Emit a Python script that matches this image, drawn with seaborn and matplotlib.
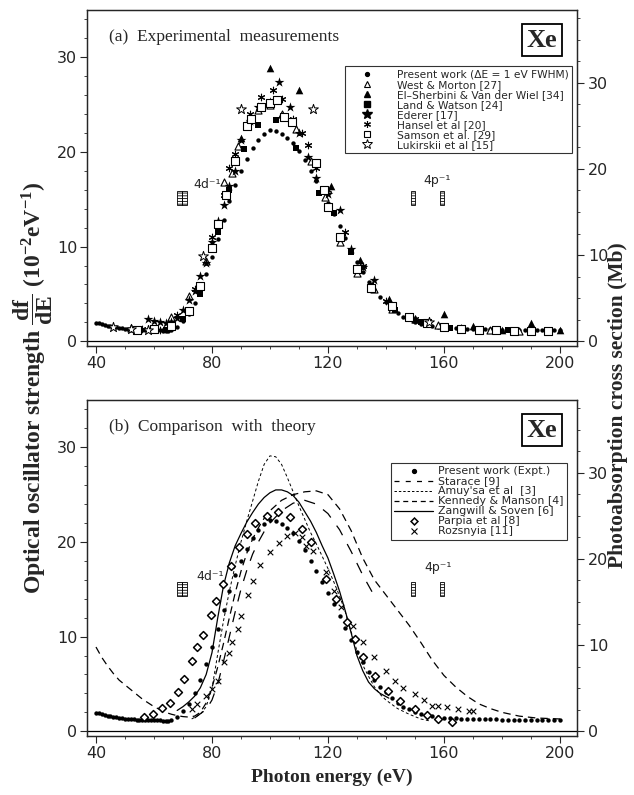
import numpy as np
import pandas as pd
import matplotlib
matplotlib.use("Agg")
import matplotlib.pyplot as plt
import seaborn as sns
from matplotlib.lines import Line2D
from matplotlib.patches import Rectangle
from matplotlib.ticker import MultipleLocator

# ---------------- data ----------------
pw_x = [40, 41, 42, 43, 44, 45, 46, 47, 48, 49, 50, 51, 52, 53, 54, 55, 56, 57, 58, 59, 60, 61, 62, 63, 64, 65,
        66, 68, 70, 72, 74, 76, 78, 80, 82, 84, 86, 88, 90, 92, 94, 96, 98, 100, 102, 104, 106, 108, 110, 112,
        114, 116, 118, 120, 122, 124, 126, 128, 130, 132, 134, 136, 138, 140, 142, 144, 146, 148, 150, 152,
        154, 156, 158, 160, 162, 164, 166, 168, 170, 172, 174, 176, 178, 180, 182, 184, 186, 188, 190, 192,
        194, 196, 198, 200]
pw_y = [1.95, 1.88, 1.8, 1.72, 1.65, 1.58, 1.52, 1.47, 1.42, 1.38, 1.34, 1.3, 1.27, 1.25, 1.23, 1.21, 1.2,
        1.19, 1.18, 1.17, 1.16, 1.15, 1.14, 1.13, 1.12, 1.12,
        1.2, 1.5, 2.1, 2.9, 4.0, 5.4, 7.1, 8.9, 10.8, 12.8, 14.8, 16.5, 18.0, 19.3, 20.4, 21.3, 21.9, 22.3,
        22.2, 21.9, 21.5, 20.9, 20.1, 19.1, 18.0, 16.9, 15.8, 14.6, 13.4, 12.2, 10.9, 9.6, 8.4, 7.3, 6.3,
        5.4, 4.7, 4.1, 3.5, 3.0, 2.6, 2.3, 2.0, 1.85, 1.7, 1.6, 1.5, 1.45, 1.4, 1.35, 1.3, 1.3, 1.28, 1.27,
        1.26, 1.25, 1.25, 1.24, 1.23, 1.22, 1.22, 1.21, 1.2, 1.2, 1.19, 1.18, 1.18, 1.17]

wm_x = [52, 60, 66, 72, 78, 84, 87, 89, 92, 96, 100, 104, 109, 114, 119, 124, 130, 136, 142, 150, 158, 166, 176, 186, 196]
wm_y = [1.4, 1.3, 2.6, 4.8, 8.5, 16.8, 17.8, 20.6, 23.0, 24.4, 25.0, 24.0, 22.4, 19.0, 15.2, 10.5, 7.2, 5.5,
        3.4, 2.4, 1.7, 1.4, 1.2, 1.1, 1.1]

es_x = [90, 100, 110, 121, 131, 141, 150, 160, 170, 180, 190, 200]
es_y = [21.5, 28.9, 26.5, 16.4, 8.6, 4.5, 2.3, 2.9, 1.6, 1.2, 1.9, 1.2]

lw_x = [64, 70, 76, 82, 86, 91, 96, 102, 109, 117, 122, 128, 135, 143, 152, 162, 172, 182]
lw_y = [1.2, 2.3, 5.0, 11.5, 16.0, 20.3, 22.8, 23.4, 20.4, 15.7, 13.5, 9.4, 5.8, 3.3, 2.0, 1.4, 1.3, 1.2]

ed_x = [58, 60, 62, 64, 66, 68, 70, 72, 74, 76, 78, 80, 82, 84, 86, 88, 90, 93, 96, 100, 103, 107, 110,
        113, 116, 120, 124, 128, 132, 136]
ed_y = [2.3, 2.1, 2.0, 1.9, 2.0, 2.5, 3.3, 4.4, 5.3, 6.9, 8.3, 10.5, 12.7, 14.4, 16.4, 18.0, 21.3, 23.3,
        24.8, 25.3, 27.4, 24.8, 22.0, 19.5, 17.2, 15.6, 13.9, 9.8, 7.8, 6.5]

ha_x = [56, 62, 68, 74, 80, 84, 86, 88, 93, 97, 101, 104, 108, 111, 113, 116, 120, 126, 132, 140, 150]
ha_y = [1.3, 1.2, 2.8, 5.5, 11.0, 15.5, 18.3, 19.8, 24.0, 25.8, 26.5, 25.6, 23.5, 22.0, 20.7, 18.3, 16.0,
        11.5, 8.0, 4.3, 2.3]

sa_x = [54, 60, 66, 72, 76, 80, 82, 85, 88, 92, 93.5, 97, 100, 102.5, 105, 107.5, 116, 118.5, 120, 124,
        130, 135, 142, 148, 154, 160, 166, 172, 178, 184, 190, 196]
sa_y = [1.2, 1.3, 1.6, 3.2, 5.8, 9.9, 12.4, 15.5, 19.0, 22.7, 23.5, 24.8, 25.2, 25.5, 23.7, 23.2, 18.8,
        16.0, 14.2, 11.0, 7.6, 5.6, 3.7, 2.6, 1.9, 1.5, 1.3, 1.2, 1.2, 1.1, 1.1, 1.1]

lu_x = [46, 52, 58, 77, 90, 115, 155]
lu_y = [1.5, 1.3, 1.2, 9.0, 24.5, 24.5, 2.0]

# panel (b) theory
st_x = [74, 78, 80, 82, 84, 86, 88, 90, 92, 94, 96, 98, 100, 104, 108, 112, 116, 120, 124, 128, 132, 136]
st_y = [1.4, 2.3, 3.3, 5.0, 7.4, 10.0, 12.6, 15.0, 17.0, 18.7, 20.0, 21.1, 22.0, 23.3, 24.1, 24.4, 24.0,
        23.0, 21.3, 19.0, 16.5, 14.3]

am_x = [73, 76, 78, 80, 82, 84, 86, 88, 90, 92, 94, 96, 98, 100, 102, 104, 106, 108, 110, 112, 114, 116,
        118, 120, 122, 124, 126, 128, 130, 132, 134, 136, 138, 140, 144, 148, 152, 155]
am_y = [1.3, 1.8, 2.6, 4.5, 8.2, 11.7, 14.8, 17.5, 20.0, 22.2, 24.3, 26.4, 28.2, 29.1, 29.0, 28.2, 26.8,
        25.3, 23.8, 22.4, 21.0, 19.8, 18.5, 17.2, 15.8, 14.3, 12.6, 10.5, 8.5, 7.0, 5.8, 4.7, 3.9, 3.3,
        2.4, 1.8, 1.3, 1.1]

km_x = [40, 42, 44, 46, 48, 50, 52, 54, 56, 58, 60, 62, 64, 66, 68, 70, 72, 74, 76, 78, 80, 82, 84, 86,
        88, 90, 92, 94, 96, 98, 100, 104, 108, 112, 116, 120, 124, 128, 132, 136, 140, 144, 148, 152, 156,
        160, 164, 168, 172, 176, 180, 186, 192, 200]
km_y = [8.9, 7.8, 6.9, 6.1, 5.4, 4.9, 4.4, 3.9, 3.4, 3.0, 2.6, 2.3, 2.0, 1.8, 1.65, 1.55, 1.5, 1.6, 2.0,
        3.0, 4.6, 6.8, 9.3, 12.0, 14.6, 16.9, 18.8, 20.3, 21.5, 22.5, 23.3, 24.4, 25.0, 25.3, 25.4, 25.0,
        23.5, 21.2, 18.3, 16.0, 14.4, 12.8, 11.2, 9.4, 7.5, 5.9, 4.7, 3.7, 2.9, 2.4, 2.0, 1.6, 1.4, 1.3]

zs_x = [68, 70, 72, 74, 76, 78, 80, 82, 84, 86, 88, 90, 92, 94, 96, 98, 100, 102, 104, 106, 108, 110, 112,
        114, 116, 118, 120, 122, 124, 126, 128, 130, 132, 134, 136, 138, 141]
zs_y = [2.2, 2.6, 3.1, 3.7, 4.6, 6.0, 8.3, 12.0, 15.4, 17.8, 19.6, 20.9, 22.1, 23.1, 24.0, 24.7, 25.2, 25.5,
        25.5, 25.3, 24.9, 24.2, 23.2, 22.2, 21.0, 19.6, 18.3, 16.6, 14.8, 12.7, 10.4, 8.0, 6.4, 5.2, 4.5,
        4.0, 3.5]

pa_x = [56.5, 59.8, 62.6, 65.5, 68.4, 70.3, 73.2, 75, 76.8, 79.5, 81.3, 83.7, 86.4, 89.3, 92.2, 94.9, 98.9,
        102.9, 106.9, 110.9, 114, 119.5, 122.8, 126.7, 129.3, 132.2, 136.4, 140.8, 144.8, 150, 154, 158, 162.7]
pa_y = [1.5, 1.8, 2.5, 3.0, 4.1, 5.5, 7.4, 8.9, 10.2, 12.3, 13.8, 15.6, 17.5, 19.5, 20.8, 22.0, 22.7, 23.2,
        22.6, 21.4, 20.0, 16.1, 14.0, 11.5, 9.7, 7.8, 5.8, 4.3, 3.2, 2.3, 1.7, 1.3, 1.0]

ro_x = [73, 75, 78, 80, 82, 84, 86, 87, 89, 90, 92.5, 94, 96.5, 100, 103, 106, 108.5, 111, 112.5, 115,
        119.5, 122, 124.5, 128.5, 132, 136, 140, 143, 146, 150, 153, 156, 158, 161, 165, 168.5, 170]
ro_y = [2.3, 2.9, 3.7, 4.5, 5.3, 7.3, 8.3, 9.4, 10.8, 12.2, 14.4, 15.9, 17.6, 18.9, 19.9, 20.6, 21.0, 20.5,
        19.6, 19.0, 16.8, 14.8, 13.1, 11.1, 9.4, 7.8, 6.4, 5.3, 4.6, 3.9, 3.3, 2.7, 2.7, 2.6, 2.4, 2.1, 2.1]

labels_a = ["Present work (\u0394E = 1 eV FWHM)", "West & Morton [27]", "El\u2013Sherbini & Van der Wiel [34]",
            "Land & Watson [24]", "Ederer [17]", "Hansel et al [20]", "Samson et al. [29]", "Lukirskii et al [15]"]
labels_b = ["Present work (Expt.)", "Starace [9]", "Amuy'sa et al  [3]", "Kennedy & Manson [4]",
            "Zangwill & Soven [6]", "Parpia et al [8]", "Rozsnyia [11]"]
x_ticks = [40, 80, 120, 160, 200]
y_ticks = [0, 10, 20, 30]
mb_ticks = [0, 10, 20, 30]
MB_PER_UNIT = 1.098

# thresholds (annotation positions)
thr_4d = [67.8, 69.6]
thr_4p = [148.8, 158.6]

# ---------------- style ----------------
sns.set_style("ticks")
plt.rcParams["font.family"] = ["Liberation Sans Narrow", "DejaVu Sans"]
plt.rcParams["mathtext.fontset"] = "custom"
plt.rcParams["mathtext.rm"] = "Liberation Serif:bold"
plt.rcParams["mathtext.it"] = "Liberation Serif:italic:bold"
plt.rcParams["mathtext.bf"] = "Liberation Serif:bold"
plt.rcParams["hatch.linewidth"] = 0.6

fig = plt.figure(figsize=(6.34, 7.95), dpi=100)
axA = fig.add_axes([87 / 634, 1 - 346 / 795, 490 / 634, 336 / 795])
axB = fig.add_axes([87 / 634, 1 - 736 / 795, 490 / 634, 336 / 795])

XLIM = (36.9, 205.9)
YLIM = (-0.5, 35.0)
K = "black"


def sc(ax, x, y, marker, s, filled=True, lw=0.8):
    df = pd.DataFrame({"x": x, "y": y})
    if filled:
        sns.scatterplot(data=df, x="x", y="y", ax=ax, marker=marker, s=s, color=K,
                        edgecolor=K, linewidth=0, legend=False, zorder=3)
    else:
        sns.scatterplot(data=df, x="x", y="y", ax=ax, marker=marker, s=s, color="white",
                        edgecolor=K, linewidth=lw, legend=False, zorder=3)


def unfilled(ax, x, y, marker, s, lw=0.8):
    df = pd.DataFrame({"x": x, "y": y})
    sns.scatterplot(data=df, x="x", y="y", ax=ax, marker=marker, s=s, color=K,
                    linewidth=lw, legend=False, zorder=3)


def ln(ax, x, y, ls, lw=0.9):
    df = pd.DataFrame({"x": x, "y": y})
    sns.lineplot(data=df, x="x", y="y", ax=ax, color=K, linewidth=lw, linestyle=ls,
                 estimator=None, sort=False, legend=False, zorder=2)


def frame(ax, title):
    ax.set_xlim(*XLIM)
    ax.set_ylim(*YLIM)
    ax.set_xticks(x_ticks)
    ax.set_yticks(y_ticks)
    ax.xaxis.set_minor_locator(MultipleLocator(10))
    ax.yaxis.set_minor_locator(MultipleLocator(2))
    ax.tick_params(which="major", direction="out", length=5, width=0.8, labelsize=11.5, pad=2)
    ax.tick_params(which="minor", direction="out", length=2.5, width=0.6)
    for sp in ax.spines.values():
        sp.set_visible(True)
        sp.set_linewidth(0.9)
    ax.axhline(0, color=K, lw=0.9, zorder=1)
    tw = ax.twinx()
    tw.set_ylim(YLIM[0] * MB_PER_UNIT, YLIM[1] * MB_PER_UNIT)
    tw.set_yticks(mb_ticks)
    tw.yaxis.set_minor_locator(MultipleLocator(2.5))
    tw.tick_params(which="major", direction="out", length=5, width=0.8, labelsize=11.5, pad=3)
    tw.tick_params(which="minor", direction="out", length=2.5, width=0.6)
    for sp in tw.spines.values():
        sp.set_linewidth(0.9)
    ax.text(0.045, 0.92, title, transform=ax.transAxes, family="Liberation Serif",
            fontsize=12.5, va="center", ha="left")
    ax.text(0.929, 0.91, "Xe", transform=ax.transAxes, family="Liberation Serif",
            weight="bold", fontsize=19, ha="center", va="center",
            bbox=dict(boxstyle="square,pad=0.18", fc="white", ec=K, lw=1.3))


def thresholds(ax, y0, h, lab4d, lab4p):
    for xv in thr_4d:
        ax.add_patch(Rectangle((xv, y0), 1.7, h, fill=False, hatch="------", lw=0.6, ec=K))
    for xv in thr_4p:
        ax.add_patch(Rectangle((xv, y0), 1.3, h, fill=False, hatch="------", lw=0.6, ec=K))
    ax.text(lab4d[0], lab4d[1], "4d\u207b\u00b9", family="DejaVu Sans", fontsize=9, ha="left", va="center")
    ax.text(lab4p[0], lab4p[1], "4p\u207b\u00b9", family="DejaVu Sans", fontsize=9, ha="left", va="center")


# ---------------- panel (a) ----------------
frame(axA, "(a)  Experimental  measurements")
sc(axA, pw_x, pw_y, "o", 10)
sc(axA, wm_x, wm_y, "^", 26, filled=False)
sc(axA, es_x, es_y, "^", 30)
sc(axA, lw_x, lw_y, "s", 20)
sc(axA, ed_x, ed_y, "*", 55)
unfilled(axA, ha_x, ha_y, (6, 2, 0), 22, lw=0.8)
sc(axA, sa_x, sa_y, "s", 30, filled=False)
sc(axA, lu_x, lu_y, "*", 55, filled=False, lw=0.7)
thresholds(axA, 14.4, 1.5, (73.5, 16.6), (152.8, 17.0))
axA.set_xlabel("")
axA.set_ylabel("")

hA = [
    Line2D([], [], ls="none", marker="o", ms=2.8, color=K),
    Line2D([], [], ls="none", marker="^", ms=5, mfc="white", mec=K, mew=0.8),
    Line2D([], [], ls="none", marker="^", ms=5, color=K),
    Line2D([], [], ls="none", marker="s", ms=4, color=K),
    Line2D([], [], ls="none", marker="*", ms=7, color=K),
    Line2D([], [], ls="none", marker=(6, 2, 0), ms=5, color=K, mew=0.8),
    Line2D([], [], ls="none", marker="s", ms=5, mfc="white", mec=K, mew=0.8),
    Line2D([], [], ls="none", marker="*", ms=7, mfc="white", mec=K, mew=0.7),
]
legA = axA.legend(hA, labels_a, loc="upper right", bbox_to_anchor=(0.99, 0.832), frameon=True,
                  fancybox=False, edgecolor=K, prop={"family": "DejaVu Sans", "size": 7.7},
                  handlelength=3.6, handletextpad=1.0, labelspacing=0.0, borderpad=0.3,
                  borderaxespad=0)
legA.get_frame().set_linewidth(0.8)

# ---------------- panel (b) ----------------
frame(axB, "(b)  Comparison  with  theory")
ln(axB, km_x, km_y, (0, (6, 4)))
ln(axB, st_x, st_y, (0, (9, 8)))
ln(axB, am_x, am_y, (0, (3, 2.5)), lw=0.7)
ln(axB, zs_x, zs_y, "-", lw=0.9)
sc(axB, pw_x, pw_y, "o", 10)
sc(axB, pa_x, pa_y, "D", 16, filled=False, lw=1.1)
unfilled(axB, ro_x, ro_y, "x", 16, lw=0.8)
thresholds(axB, 14.3, 1.5, (74.7, 16.4), (153.4, 17.3))
axB.set_xlabel("")
axB.set_ylabel("")

hB = [
    Line2D([], [], ls="none", marker="o", ms=2.8, color=K),
    Line2D([], [], ls=(0, (4, 5)), lw=0.9, color=K),
    Line2D([], [], ls=(0, (2.5, 2)), lw=0.7, color=K),
    Line2D([], [], ls=(0, (4, 3)), lw=0.9, color=K),
    Line2D([], [], ls="-", lw=0.9, color=K),
    Line2D([], [], ls="none", marker="D", ms=3.5, mfc="white", mec=K, mew=1.1),
    Line2D([], [], ls="none", marker="x", ms=4, color=K, mew=0.8),
]
legB = axB.legend(hB, labels_b, loc="upper right", bbox_to_anchor=(0.98, 0.812), frameon=True,
                  fancybox=False, edgecolor=K, prop={"family": "DejaVu Sans", "size": 7.9},
                  handlelength=3.6, handletextpad=0.45, labelspacing=0.0, borderpad=0.3,
                  borderaxespad=0)
legB.get_frame().set_linewidth(0.8)

# ---------------- axis titles ----------------
fig.text(0.052, 0.512, r"Optical oscillator strength $\mathrm{\dfrac{df}{dE}}$ (10$^{-2}$eV$^{-1}$)",
         rotation=90, ha="center", va="center", family="Liberation Serif", weight="bold", fontsize=17)
fig.text(0.975, 0.49, "Photoabsorption cross section (Mb)", rotation=90, ha="center", va="center",
         family="Liberation Serif", weight="bold", fontsize=15.5)
fig.text(332 / 634, 0.022, "Photon energy (eV)", ha="center", va="center",
         family="Liberation Serif", weight="bold", fontsize=14)

fig.savefig("out.png", dpi=100)
